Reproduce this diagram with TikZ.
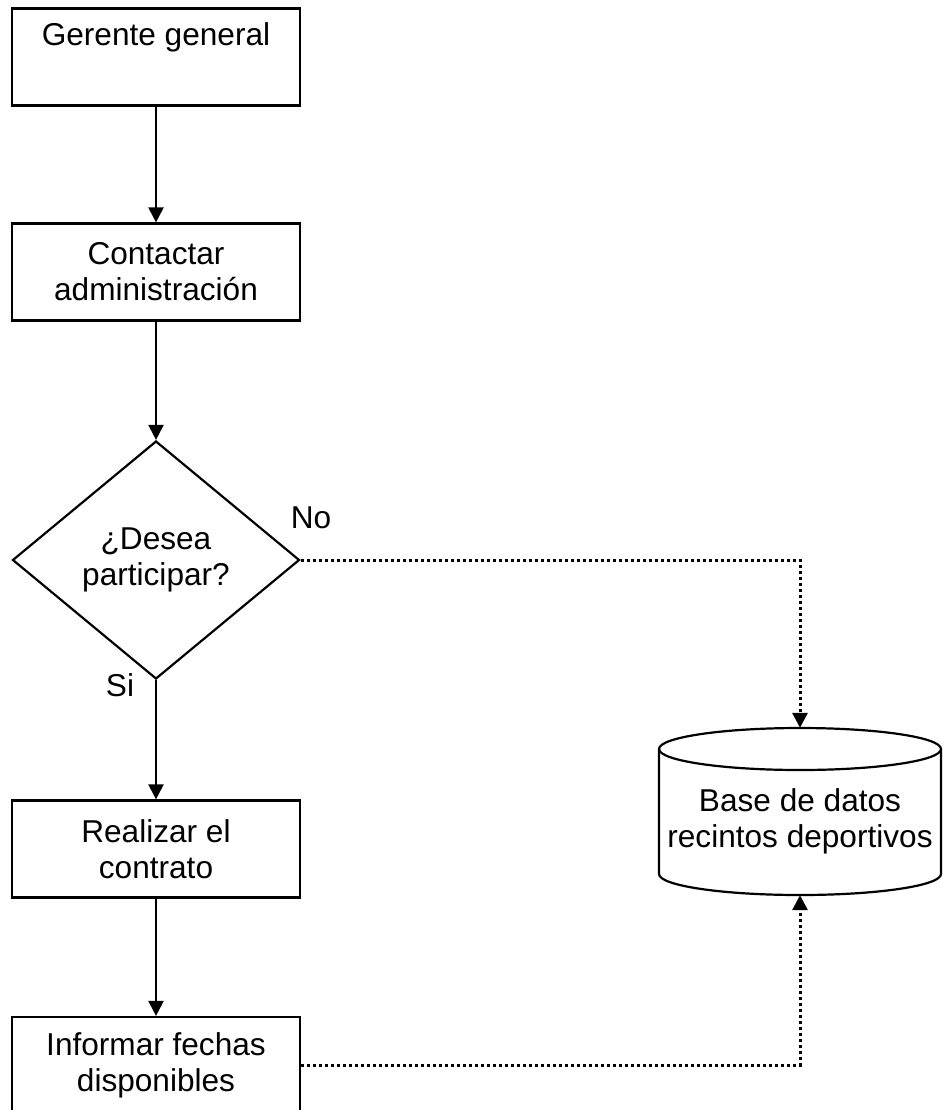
\documentclass[tikz,border=0pt]{standalone}
\usepackage{fontspec}
\setmainfont{Liberation Sans}
\usetikzlibrary{arrows.meta,shapes.geometric}
\begin{document}
\begin{tikzpicture}[x=1pt,y=-1pt,
  every node/.style={font=\fontsize{31.6}{36}\selectfont},
  proc/.style={draw, line width=2.2pt, rectangle, minimum width=288pt,
    minimum height=97pt, align=center, inner sep=0pt},
  decision/.style={draw, line width=2.2pt, diamond, minimum width=287pt,
    minimum height=238pt, align=center, inner sep=0pt},
  store/.style={minimum width=282pt, minimum height=167pt, inner sep=0pt},
  tip/.style={-{Triangle[width=15pt,length=15pt]}},
  flow/.style={line width=2.2pt, tip},
  dots/.style={line width=3pt, dash pattern=on 3pt off 3pt, tip},
  tag/.style={inner sep=0pt}
]
\useasboundingbox (0,0) rectangle (942,1110);

% process steps
\node[proc] (g) at (156,57) {Gerente general\\\strut};
\node[proc] (c) at (156,272) {Contactar\\administración};
\node[decision] (q) at (156,560) {¿Desea\\participar?};
\node[proc] (r) at (156,849) {Realizar el\\contrato};
\node[proc] (i) at (156,1065.5) {Informar fechas\\disponibles};

% database cylinder
\node[store] (db) at (800,811.5) {};
\draw[line width=2.2pt] (800,749) ellipse [x radius=141, y radius=21];
\draw[line width=2.2pt] (659,749) -- (659,874)
  arc[start angle=180, end angle=0, x radius=141, y radius=21] -- (941,749);
\node[align=center] (dbt) at (800,821) {Base de datos\\recintos deportivos};

% branch labels
\node[tag] (no) at (311,518) {No};
\node[tag] (si) at (120,685) {Si};

% connectors
\draw[flow] (g) -- (c);
\draw[flow] (c) -- (q);
\draw[flow] (q) -- (r);
\draw[flow] (r) -- (i);
\draw[dots] (q.east) -| (db.north);
\draw[dots] (i.east) -| (db.south);
\end{tikzpicture}
\end{document}
